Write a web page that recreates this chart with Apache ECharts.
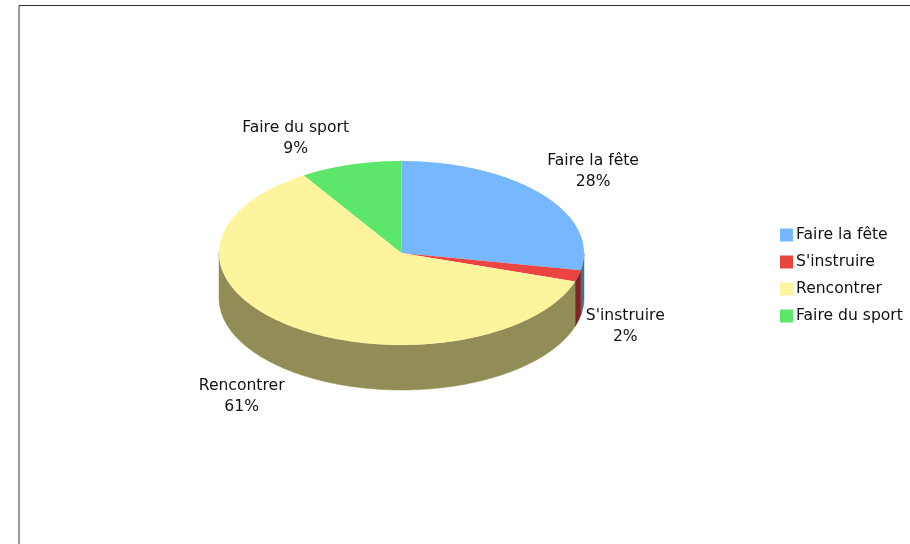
<!DOCTYPE html>
<html>
<head>
<meta charset="utf-8">
<style>html,body{margin:0;padding:0;background:#fff}#c{width:910px;height:544px}</style>
<script src="https://cdn.jsdelivr.net/npm/echarts@6/dist/echarts.min.js"></script>
</head>
<body>
<div id="c"></div>
<script>
const categories = ["Faire la fête", "S'instruire", "Rencontrer", "Faire du sport"];
const shares = [28, 2, 61, 9];
const topColors = ["#75B8FF", "#EB4541", "#FFF49E", "#5CE66A"];
const wallColors = ["#46708F", "#7E2625", "#928C56", "#37893F"];
const labelOffsets = [[51, -23], [47, 50], [-48, 70], [-55, -27]];

const FONT = '"DejaVu Sans", Verdana, sans-serif';
const CX = 401.5, CY = 253, RX = 182.5, RY = 92, DEPTH = 45;
const total = shares.reduce((a, b) => a + b, 0);

function pt(deg, dy) {
  const r = deg * Math.PI / 180;
  return [CX + RX * Math.sin(r), CY - RY * Math.cos(r) + (dy || 0)];
}
function arc(a, b, dy) {
  const out = [];
  const n = Math.max(2, Math.ceil(Math.abs(b - a) * 2));
  for (let i = 0; i <= n; i++) out.push(pt(a + (b - a) * i / n, dy));
  return out;
}

const chart = echarts.init(document.getElementById('c'), null, {renderer: 'canvas'});
const series = categories.map((name, idx) => ({
  type: 'custom',
  name: name,
  coordinateSystem: 'none',
  silent: true,
  animation: false,
  itemStyle: {color: topColors[idx]},
  data: [[shares[idx]]],
  renderItem: function (params, api) {
    const before = shares.slice(0, idx).reduce((a, b) => a + b, 0);
    const start = before / total * 360;
    const end = start + api.value(0) / total * 360;
    const children = [];
    const ws = Math.max(start, 90), we = Math.min(end, 270);
    if (we > ws) {
      const upper = arc(ws, we, 0);
      const lower = arc(ws, we, DEPTH).reverse();
      children.push({
        type: 'polygon',
        shape: {points: upper.concat(lower)},
        style: {fill: wallColors[idx], stroke: wallColors[idx], lineWidth: 0.5}
      });
    }
    children.push({
      type: 'polygon',
      z2: 10,
      shape: {points: [[CX, CY]].concat(arc(start, end, 0))},
      style: {fill: topColors[idx]}
    });
    const mid = pt((start + end) / 2, 0);
    children.push({
      type: 'text',
      z2: 20,
      x: mid[0] + labelOffsets[idx][0],
      y: mid[1] + labelOffsets[idx][1] + 0.5,
      style: {
        text: name + '\n' + Math.round(api.value(0) / total * 100) + '%',
        fill: '#111',
        font: '15.6px ' + FONT,
        lineHeight: 21,
        align: 'center',
        verticalAlign: 'middle'
      }
    });
    return {type: 'group', children: children};
  }
}));

chart.setOption({
  animation: false,
  backgroundColor: '#fff',
  legend: {
    orient: 'vertical',
    left: 780,
    top: 227,
    padding: 0,
    icon: 'rect',
    itemWidth: 13,
    itemHeight: 13,
    itemGap: 11,
    selectedMode: false,
    data: categories,
    textStyle: {fontFamily: FONT, fontSize: 15.6, color: '#111', lineHeight: 14, padding: [0, 0, 0, -2]}
  },
  graphic: [{
    type: 'rect',
    silent: true,
    shape: {x: 19, y: 5.5, width: 1200, height: 1200},
    style: {fill: 'none', stroke: '#333', lineWidth: 1}
  }],
  series: series
});
</script>
</body>
</html>
